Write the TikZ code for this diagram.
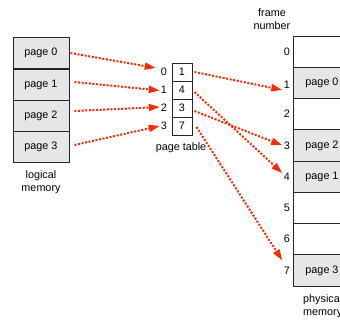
\documentclass[tikz,border=0pt]{standalone}
\usepackage{fontspec}
\setmainfont{Liberation Sans}
\usetikzlibrary{arrows.meta,calc}
\definecolor{arrred}{RGB}{255,42,0}
\definecolor{cellgray}{RGB}{230,229,232}
\begin{document}
\begin{tikzpicture}[x=1pt,y=-1pt,
  every node/.style={font=\fontsize{10.8}{12.8}\selectfont},
  lcell/.style={draw=black!85,line width=0.9pt,minimum width=56pt,minimum height=31pt,inner sep=0pt,fill=cellgray},
  pcell/.style={draw=black!85,line width=0.9pt,minimum width=58pt,minimum height=31.25pt,inner sep=0pt},
  tcell/.style={draw=black!85,line width=0.9pt,minimum width=20pt,minimum height=18pt,inner sep=0pt},
  lbl/.style={inner sep=0pt},
  maparrow/.style={draw=arrred,line width=2pt,dash pattern=on 2pt off 1.6pt,-{Triangle[length=11pt,width=7pt]}}
]
\useasboundingbox (0,0) rectangle (340,320);
% logical memory
\node[lcell] (l0) at (41,53) {page 0};
\node[lcell] (l1) at (41,84.5) {page 1};
\node[lcell] (l2) at (41,115.5) {page 2};
\node[lcell] (l3) at (41,146.5) {page 3};
\node[lbl,align=center] (lmlabel) at (41,182) {logical\\memory};
% page table
\node[tcell] (t0) at (182,72) {1};
\node[tcell] (t1) at (182,90) {4};
\node[tcell] (t2) at (182,108) {3};
\node[tcell] (t3) at (182,126) {7};
\node[lbl] (i0) at (164,72) {0};
\node[lbl] (i1) at (164,90) {1};
\node[lbl] (i2) at (164,108) {2};
\node[lbl] (i3) at (164,126) {3};
\node[lbl] (ptlabel) at (181,148) {page table};
% physical memory
\node[pcell] (f0) at (322,51.6) {};
\node[pcell,fill=cellgray] (f1) at (322,82.9) {page 0};
\node[pcell] (f2) at (322,114.1) {};
\node[pcell,fill=cellgray] (f3) at (322,145.4) {page 2};
\node[pcell,fill=cellgray] (f4) at (322,176.6) {page 1};
\node[pcell] (f5) at (322,207.9) {};
\node[pcell] (f6) at (322,239.1) {};
\node[pcell,fill=cellgray] (f7) at (322,270.4) {page 3};
\node[lbl] (n0) at (287,51.6) {0};
\node[lbl] (n1) at (287,85) {1};
\node[lbl] (n2) at (287,114.1) {2};
\node[lbl] (n3) at (287,145.4) {3};
\node[lbl] (n4) at (287,176.6) {4};
\node[lbl] (n5) at (287,207.9) {5};
\node[lbl] (n6) at (287,239.1) {6};
\node[lbl] (n7) at (287,270.4) {7};
\node[lbl,align=center] (fnlabel) at (272,19) {frame\\number};
\node[lbl,align=left,anchor=west] (pmlabel) at (303,306.5) {physical\\memory};
% arrows logical -> page table index
\draw[maparrow] ($(l0.east)+(1,0)$) -- ($(i0.west)+(-5,-4)$);
\draw[maparrow] ($(l1.east)+(5,-2.5)$) -- ($(i1.west)+(-1,0.5)$);
\draw[maparrow] ($(l2.east)+(5,-4.5)$) -- ($(i2.west)+(-1,-1)$);
\draw[maparrow] ($(l3.east)+(5,-1.5)$) -- ($(i3.west)+(-1,0)$);
% arrows page table -> frames
\draw[maparrow] ($(t0.east)+(2,0)$) -- ($(n1.west)+(-1.5,5)$);
\draw[maparrow] ($(t1.east)+(2,2)$) -- ($(n4.west)+(-1.5,-3.5)$);
\draw[maparrow] ($(t2.east)+(2,3)$) -- ($(n3.west)+(-1.5,0)$);
\draw[maparrow] ($(t3.east)+(4,1)$) -- ($(n7.west)+(-1.5,-10)$);
\end{tikzpicture}
\end{document}
